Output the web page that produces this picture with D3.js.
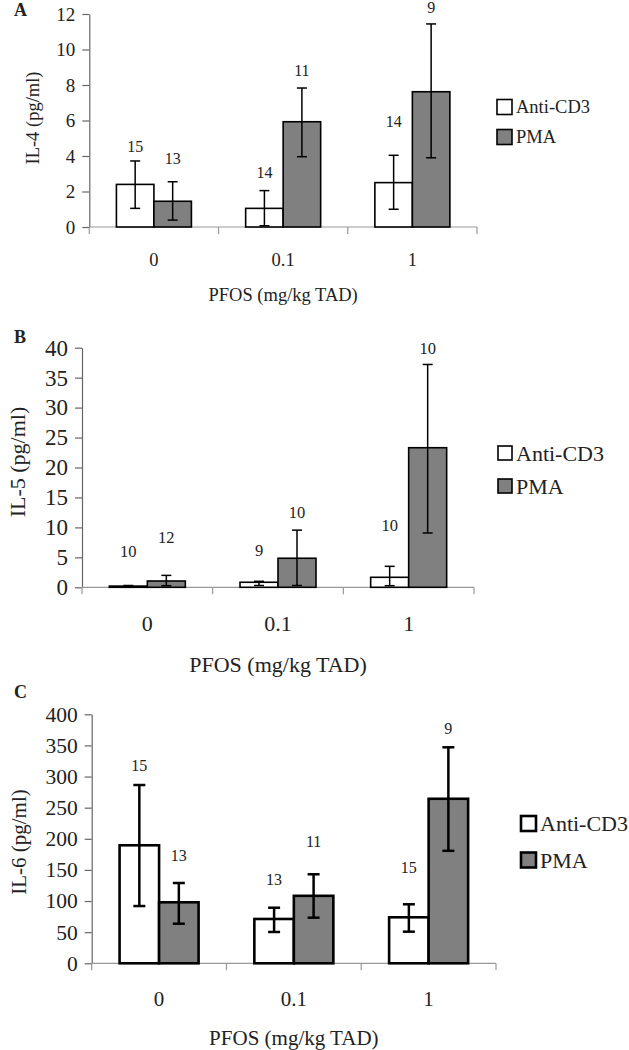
<!DOCTYPE html>
<html>
<head>
<meta charset="utf-8">
<script src="https://cdn.jsdelivr.net/npm/d3@7"></script>
<style>
  html, body { margin: 0; padding: 0; background: #fff; }
  svg { display: block; }
  text { font-family: "Liberation Serif", "Times New Roman", serif; fill: #222; }
</style>
</head>
<body>
<svg id="chart" width="629" height="1050"></svg>
<script>
// ---------- data ----------
const categories = ['0', '0.1', '1'];
const seriesNames = ['Anti-CD3', 'PMA'];

// Panel A: IL-4
const il4Ticks = [0, 2, 4, 6, 8, 10, 12];
const il4Anti = [2.4, 1.05, 2.5];
const il4PMA = [1.45, 5.93, 7.62];
const il4AntiLow = [1.05, 0.07, 1.0];
const il4AntiHigh = [3.72, 2.05, 4.04];
const il4PMALow = [0.39, 3.96, 3.9];
const il4PMAHigh = [2.55, 7.83, 11.44];
const il4AntiN = [15, 14, 14];
const il4PMAN = [13, 11, 9];
const il4AntiNAt = [4.56, 3.10, 5.97];
const il4PMANAt = [3.89, 8.85, 12.4];

// Panel B: IL-5
const il5Ticks = [0, 5, 10, 15, 20, 25, 30, 35, 40];
const il5Anti = [0.2, 0.84, 1.67];
const il5PMA = [1.05, 4.85, 23.3];
const il5AntiLow = [0.1, 0.3, 0.27];
const il5AntiHigh = [0.3, 1.0, 3.5];
const il5PMALow = [0.27, 0.3, 9.07];
const il5PMAHigh = [1.99, 9.54, 37.2];
const il5AntiN = [10, 9, 10];
const il5PMAN = [12, 10, 10];
const il5AntiNAt = [6.06, 6.2, 10.3];
const il5PMANAt = [8.4, 12.6, 39.9];

// Panel C: IL-6
const il6Ticks = [0, 50, 100, 150, 200, 250, 300, 350, 400];
const il6Anti = [189.6, 71.2, 73.9];
const il6PMA = [98, 108.4, 264.3];
const il6AntiLow = [92, 50.3, 50.8];
const il6AntiHigh = [286.4, 89.3, 94.8];
const il6PMALow = [63.6, 73.3, 180.7];
const il6PMAHigh = [129, 143, 347];
const il6AntiN = [15, 13, 15];
const il6PMAN = [13, 11, 9];
const il6AntiNAt = [318.6, 134, 154.2];
const il6PMANAt = [174, 195.3, 377.5];

const xTitle = 'PFOS (mg/kg TAD)';

// ---------- layout ----------
const panels = [
  { letter: 'A', yTitle: 'IL-4 (pg/ml)', ticks: il4Ticks,
    anti: il4Anti, pma: il4PMA, aLo: il4AntiLow, aHi: il4AntiHigh, pLo: il4PMALow, pHi: il4PMAHigh,
    aN: il4AntiN, pN: il4PMAN, aNAt: il4AntiNAt, pNAt: il4PMANAt,
    x0: 89.3, x1: 477, yBase: 227, yTop: 14, barW: 37.5,
    fs: 18.5, tfs: 19, nfs: 16, letterY: 16, catY: 266, titleY: 301, yTitleX: 39, yTitleY: 118,
    legX: 497, legY: [107, 137], legBox: 15, legFs: 18.5, stroke: 1.6, errW: 1.5, cap: 10 },
  { letter: 'B', yTitle: 'IL-5 (pg/ml)', ticks: il5Ticks,
    anti: il5Anti, pma: il5PMA, aLo: il5AntiLow, aHi: il5AntiHigh, pLo: il5PMALow, pHi: il5PMAHigh,
    aN: il5AntiN, pN: il5PMAN, aNAt: il5AntiNAt, pNAt: il5PMANAt,
    x0: 82, x1: 474, yBase: 587.3, yTop: 347.7, barW: 38,
    fs: 22, tfs: 23, nfs: 16.5, letterY: 343, catY: 631, titleY: 672, yTitleX: 25, yTitleY: 462,
    legX: 498, legY: [453, 486], legBox: 14, legFs: 22, stroke: 1.6, errW: 1.5, cap: 10 },
  { letter: 'C', yTitle: 'IL-6 (pg/ml)', ticks: il6Ticks,
    anti: il6Anti, pma: il6PMA, aLo: il6AntiLow, aHi: il6AntiHigh, pLo: il6PMALow, pHi: il6PMAHigh,
    aN: il6AntiN, pN: il6PMAN, aNAt: il6AntiNAt, pNAt: il6PMANAt,
    x0: 91.7, x1: 496, yBase: 963.3, yTop: 714.3, barW: 39.5,
    fs: 21, tfs: 21.5, nfs: 16, letterY: 698, catY: 1006, titleY: 1045, yTitleX: 26, yTitleY: 842,
    legX: 521, legY: [823.5, 860], legBox: 15, legFs: 22, stroke: 2.6, errW: 2.5, cap: 12 }
];

const svg = d3.select('#chart');
const fills = { 'Anti-CD3': '#ffffff', 'PMA': '#808080' };

panels.forEach(p => {
  const g = svg.append('g');
  const x = d3.scaleBand().domain(categories).range([p.x0, p.x1]).padding(0);
  const bw = x.bandwidth();
  const xs = d3.scaleBand().domain(seriesNames).range([bw / 2 - p.barW, bw / 2 + p.barW]);
  const yMax = p.ticks[p.ticks.length - 1];
  const y = d3.scaleLinear().domain([0, yMax]).range([p.yBase, p.yTop]);

  // panel letter
  g.append('text').attr('x', 14).attr('y', p.letterY)
    .attr('font-size', 18).attr('font-weight', 'bold').text(p.letter);

  // y axis
  const yAxis = d3.axisLeft(y).tickValues(p.ticks).tickFormat(d3.format('d'))
    .tickSize(7).tickPadding(7).tickSizeOuter(0);
  const ya = g.append('g').attr('transform', `translate(${p.x0},0)`).call(yAxis);
  ya.select('.domain').attr('stroke', '#666').attr('stroke-width', 1.2);
  ya.selectAll('.tick line').attr('stroke', '#666').attr('stroke-width', 1.2);
  ya.selectAll('.tick text').attr('font-size', p.tfs)
    .attr('font-family', '"Liberation Serif", "Times New Roman", serif').attr('fill', '#222');

  // x axis line and boundary ticks
  g.append('line').attr('x1', p.x0).attr('x2', p.x1).attr('y1', y(0)).attr('y2', y(0))
    .attr('stroke', '#999').attr('stroke-width', 1.2);
  const bounds = categories.map(c => x(c)).concat([p.x1]);
  g.selectAll('.xt').data(bounds).enter().append('line')
    .attr('x1', d => d).attr('x2', d => d).attr('y1', y(0)).attr('y2', y(0) + 7)
    .attr('stroke', '#999').attr('stroke-width', 1.2);

  // category labels
  g.selectAll('.cat').data(categories).enter().append('text')
    .attr('x', d => x(d) + bw / 2).attr('y', p.catY)
    .attr('text-anchor', 'middle').attr('font-size', p.fs).text(d => d);

  // titles
  g.append('text').attr('x', (p.x0 + p.x1) / 2).attr('y', p.titleY)
    .attr('text-anchor', 'middle').attr('font-size', p.fs).text(xTitle);
  g.append('text').attr('transform', `translate(${p.yTitleX},${p.yTitleY}) rotate(-90)`)
    .attr('text-anchor', 'middle').attr('font-size', p.fs).text(p.yTitle);

  // bars
  const rows = [];
  categories.forEach((c, i) => {
    rows.push({ c, s: 'Anti-CD3', v: p.anti[i], lo: p.aLo[i], hi: p.aHi[i], n: p.aN[i], at: p.aNAt[i] });
    rows.push({ c, s: 'PMA', v: p.pma[i], lo: p.pLo[i], hi: p.pHi[i], n: p.pN[i], at: p.pNAt[i] });
  });
  g.selectAll('.bar').data(rows).enter().append('rect')
    .attr('x', d => x(d.c) + xs(d.s)).attr('width', xs.bandwidth())
    .attr('y', d => y(d.v)).attr('height', d => y(0) - y(d.v))
    .attr('fill', d => fills[d.s]).attr('stroke', '#000').attr('stroke-width', p.stroke);

  // error bars
  const cx = d => x(d.c) + xs(d.s) + xs.bandwidth() / 2;
  g.selectAll('.err').data(rows).enter().append('line')
    .attr('x1', cx).attr('x2', cx).attr('y1', d => y(d.lo)).attr('y2', d => y(d.hi))
    .attr('stroke', '#000').attr('stroke-width', p.errW);
  ['hi', 'lo'].forEach(k => {
    g.selectAll('.cap' + k).data(rows).enter().append('line')
      .attr('x1', d => cx(d) - p.cap / 2).attr('x2', d => cx(d) + p.cap / 2)
      .attr('y1', d => y(d[k])).attr('y2', d => y(d[k]))
      .attr('stroke', '#000').attr('stroke-width', p.errW);
  });

  // n labels
  g.selectAll('.nlab').data(rows).enter().append('text')
    .attr('x', cx).attr('y', d => y(d.at)).attr('dy', '0.35em')
    .attr('text-anchor', 'middle').attr('font-size', p.nfs).attr('fill', '#1e1e2e').text(d => d.n);

  // legend
  seriesNames.forEach((s, i) => {
    g.append('rect').attr('x', p.legX).attr('y', p.legY[i] - p.legBox / 2)
      .attr('width', p.legBox).attr('height', p.legBox)
      .attr('fill', fills[s]).attr('stroke', '#000').attr('stroke-width', p.stroke);
    g.append('text').attr('x', p.legX + p.legBox + 4).attr('y', p.legY[i]).attr('dy', '0.35em')
      .attr('font-size', p.legFs).text(s);
  });
});
</script>
</body>
</html>
